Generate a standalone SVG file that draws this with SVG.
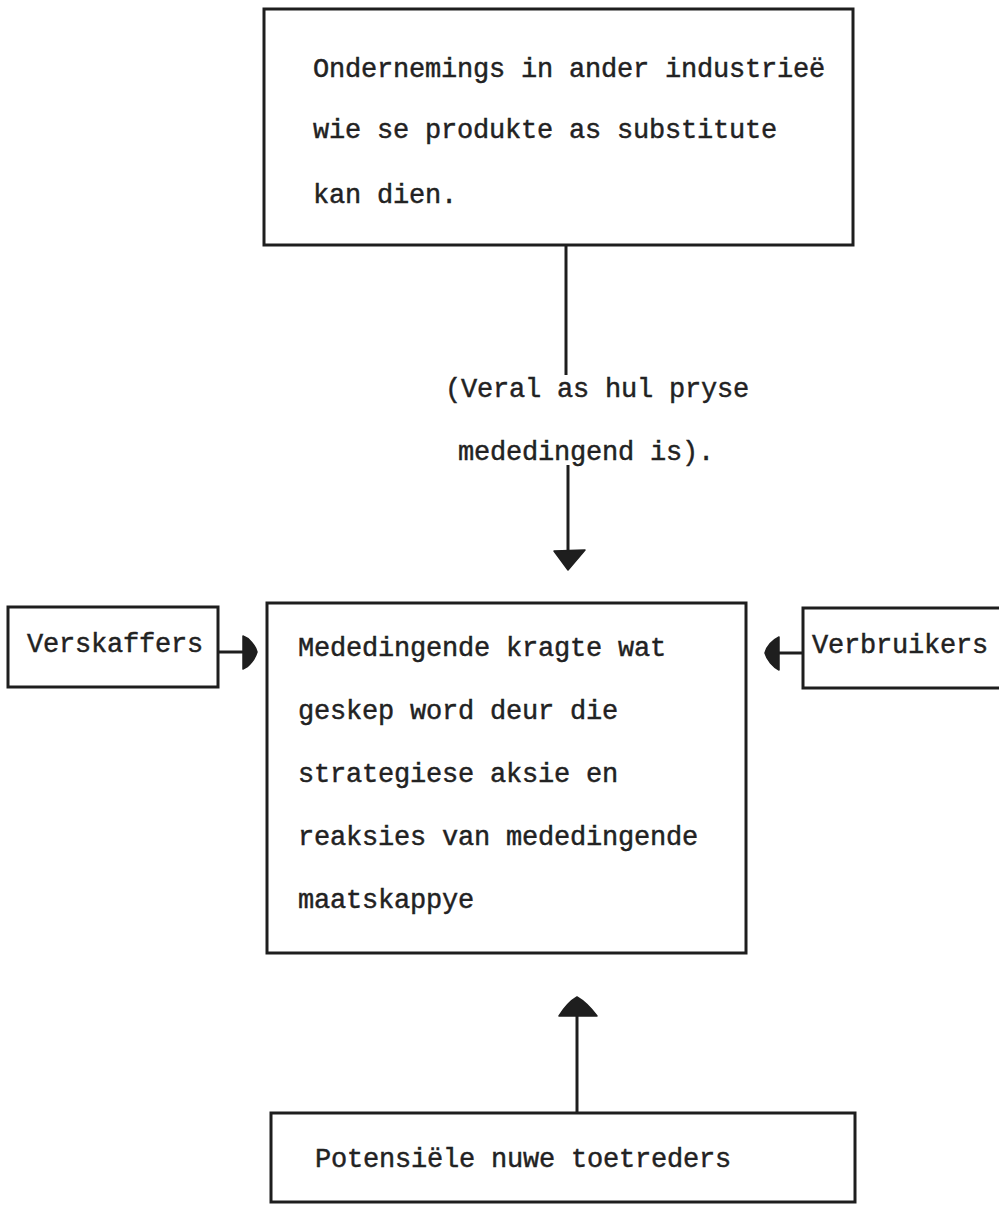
<svg xmlns="http://www.w3.org/2000/svg" width="999" height="1206" viewBox="0 0 999 1206">
<style>
.box{fill:none;stroke:#1e1e1e;stroke-width:3}
.ln{fill:none;stroke:#1e1e1e;stroke-width:3}
.hd{fill:#1e1e1e;stroke:#1e1e1e;stroke-width:1.5;stroke-linejoin:round}
text{font-family:"Liberation Mono","Courier New",monospace;font-size:27px;letter-spacing:-0.2px;fill:#222;stroke:#222;stroke-width:0.45}
</style>
<rect width="999" height="1206" fill="#fff"/>
<g id="node-substitutes">
<rect class="box" x="264" y="9" width="589" height="236"/>
<text x="313" y="77">Ondernemings in ander industrieë</text>
<text x="313" y="138">wie se produkte as substitute</text>
<text x="313" y="203">kan dien.</text>
</g>
<g id="node-rivalry">
<rect class="box" x="267" y="603" width="479" height="350"/>
<text x="298" y="656">Mededingende kragte wat</text>
<text x="298" y="719">geskep word deur die</text>
<text x="298" y="782">strategiese aksie en</text>
<text x="298" y="845">reaksies van mededingende</text>
<text x="298" y="908">maatskappye</text>
</g>
<g id="node-suppliers">
<rect class="box" x="8" y="607" width="210" height="80"/>
<text x="27" y="652">Verskaffers</text>
</g>
<g id="node-buyers">
<rect class="box" x="803" y="608" width="210" height="80"/>
<text x="812" y="653">Verbruikers</text>
</g>
<g id="node-entrants">
<rect class="box" x="271" y="1113" width="584" height="89"/>
<text x="315" y="1167">Potensiële nuwe toetreders</text>
</g>
<g id="connectors">
<line class="ln" x1="566" y1="245" x2="566" y2="375"/>
<line class="ln" x1="568" y1="465" x2="568" y2="553"/>
<path class="hd" d="M554,551 L585,550 L568,570 Z"/>
<text x="445" y="397">(Veral as hul pryse</text>
<text x="458" y="460">mededingend is).</text>
<line class="ln" x1="218" y1="652" x2="243" y2="652"/>
<path class="hd" d="M243,636 C249,638 255,645 257,652 C255,659 249,667 243,669 Z"/>
<line class="ln" x1="803" y1="653" x2="779" y2="653"/>
<path class="hd" d="M779,637 C773,640 767,646 765,653 C767,660 773,667 779,670 Z"/>
<line class="ln" x1="577" y1="1113" x2="577" y2="1016"/>
<path class="hd" d="M559,1016 L597,1016 C591,1008 584,1001 577,997 C570,1001 564,1008 559,1016 Z"/>
</g>
</svg>
